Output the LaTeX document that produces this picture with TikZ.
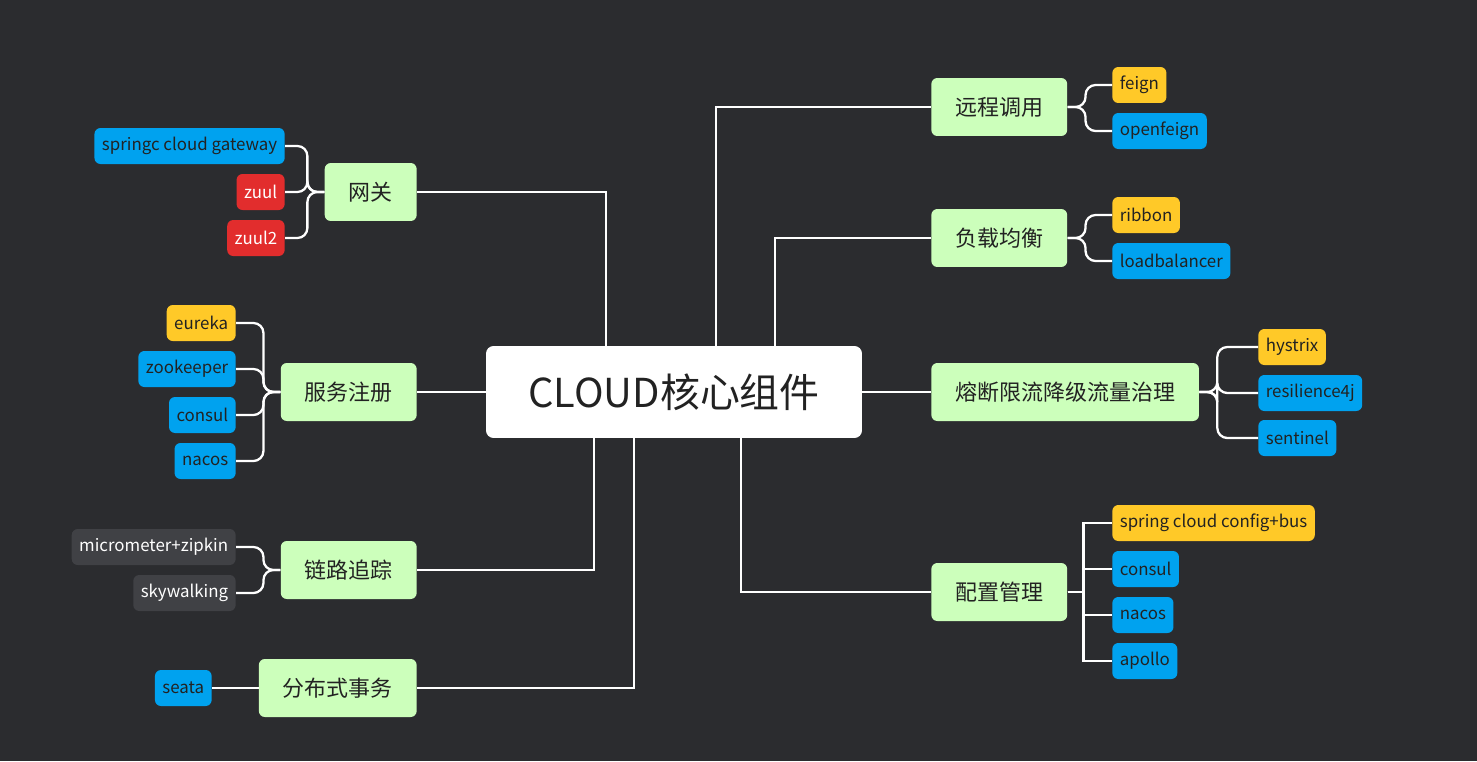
\documentclass[tikz,border=0pt]{standalone}
\usepackage{fontspec}
\setmainfont{Noto Sans CJK SC}
\usepackage{tikz}
\usetikzlibrary{positioning}

\definecolor{bgdark}{HTML}{2B2C2F}
\definecolor{topicgreen}{HTML}{CCFFBB}
\definecolor{leafyellow}{HTML}{FFC928}
\definecolor{leafblue}{HTML}{00A2EF}
\definecolor{leafred}{HTML}{E22D2D}
\definecolor{leafgray}{HTML}{404145}
\definecolor{textdark}{HTML}{222222}

\tikzset{
  topic/.style={fill=topicgreen,text=textdark,rounded corners=0.12cm,minimum height=1.16cm,inner xsep=0.48cm,font=\fontsize{12.5}{14}\selectfont},
  leaf/.style={rounded corners=0.12cm,minimum height=0.72cm,inner xsep=0.15cm,inner ysep=0pt,font=\fontsize{9.6}{11}\selectfont},
  yleaf/.style={leaf,fill=leafyellow,text=textdark},
  bleaf/.style={leaf,fill=leafblue,text=textdark},
  rleaf/.style={leaf,fill=leafred,text=white},
  gleaf/.style={leaf,fill=leafgray,text=white},
  link/.style={draw=white,line width=1.3pt},
  brace/.style={draw=white,line width=1.3pt,rounded corners=0.2cm}
}

\begin{document}
\begin{tikzpicture}[x=0.02cm,y=-0.02cm]
		\fill[bgdark] (0,0) rectangle (1477,761);
		\useasboundingbox (0,0) rectangle (1477,761);

		%centre
		\node[fill=white,text=textdark,rounded corners=0.15cm,minimum width=7.52cm,minimum height=1.84cm,font=\fontsize{22.7}{26}\selectfont] (core) at (674,392) {CLOUD核心组件};

		%left topics
		\node[topic,anchor=east] (gw) at (417,192) {网关};
		\node[topic,anchor=east] (reg) at (417,392) {服务注册};
		\node[topic,anchor=east] (trace) at (417,570) {链路追踪};
		\node[topic,anchor=east] (tx) at (417,688) {分布式事务};

		%right topics
		\node[topic,anchor=west] (rpc) at (931,107) {远程调用};
		\node[topic,anchor=west] (lb) at (931,238) {负载均衡};
		\node[topic,anchor=west] (cb) at (931,392) {熔断限流降级流量治理};
		\node[topic,anchor=west] (cfg) at (931,592) {配置管理};

		%topic links
		\draw[link] (gw.east) -| (606,346);
		\draw[link] (reg.east) -- (core.west);
		\draw[link] (trace.east) -| (594,438);
		\draw[link] (tx.east) -| (634,438);
		\draw[link] (rpc.west) -| (716,346);
		\draw[link] (lb.west) -| (775,346);
		\draw[link] (cb.west) -- (core.east);
		\draw[link] (cfg.west) -| (741,438);

		%left leaves
		\node[bleaf,anchor=east] (gw1) at (285,146) {springc cloud gateway};
		\node[rleaf,anchor=east] (gw2) at (285,192) {zuul};
		\node[rleaf,anchor=east] (gw3) at (285,238) {zuul2};
		\node[yleaf,anchor=east] (reg1) at (236,323) {eureka};
		\node[bleaf,anchor=east] (reg2) at (236,369) {zookeeper};
		\node[bleaf,anchor=east] (reg3) at (236,415) {consul};
		\node[bleaf,anchor=east] (reg4) at (236,461) {nacos};
		\node[gleaf,anchor=east] (trace1) at (236,547) {micrometer+zipkin};
		\node[gleaf,anchor=east] (trace2) at (236,593) {skywalking};
		\node[bleaf,anchor=east] (tx1) at (212,688) {seata};

		%right leaves
		\node[yleaf,anchor=west] (rpc1) at (1112,85) {feign};
		\node[bleaf,anchor=west] (rpc2) at (1112,131) {openfeign};
		\node[yleaf,anchor=west] (lb1) at (1112,215) {ribbon};
		\node[bleaf,anchor=west] (lb2) at (1112,261) {loadbalancer};
		\node[yleaf,anchor=west] (cb1) at (1258,347) {hystrix};
		\node[bleaf,anchor=west] (cb2) at (1258,393) {resilience4j};
		\node[bleaf,anchor=west] (cb3) at (1258,438) {sentinel};
		\node[yleaf,anchor=west] (cfg1) at (1112,523) {spring cloud config+bus};
		\node[bleaf,anchor=west] (cfg2) at (1112,569) {consul};
		\node[bleaf,anchor=west] (cfg3) at (1112,615) {nacos};
		\node[bleaf,anchor=west] (cfg4) at (1112,661) {apollo};

		%braces
		\foreach \t/\l in {gw/gw1,gw/gw2,gw/gw3,reg/reg1,reg/reg2,reg/reg3,reg/reg4,trace/trace1,trace/trace2}
			\draw[brace] (\t.west) -- ++(-17,0) |- (\l.east);
		\draw[link] (tx.west) -- (tx1.east);
		\foreach \t/\l in {rpc/rpc1,rpc/rpc2,lb/lb1,lb/lb2,cb/cb1,cb/cb2,cb/cb3}
			\draw[brace] (\t.east) -- ++(18,0) |- (\l.west);
		\foreach \l in {cfg1,cfg2,cfg3,cfg4}
			\draw[link] (cfg.east) -- ++(16,0) |- (\l.west);

		\end{tikzpicture}
\end{document}
